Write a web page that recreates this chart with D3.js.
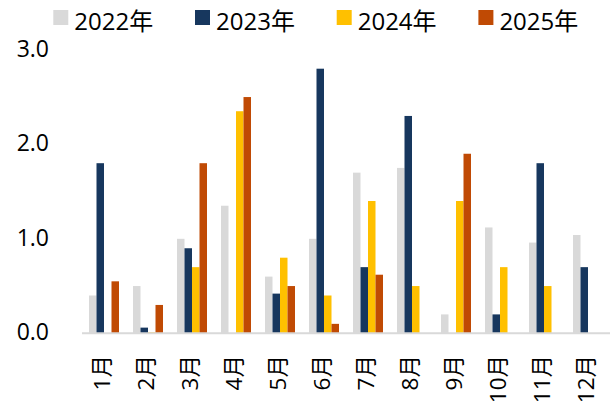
<!DOCTYPE html>
<html>
<head>
<meta charset="utf-8">
<script src="https://cdn.jsdelivr.net/npm/d3@7"></script>
<style>
  body { margin: 0; background: #fff; }
  svg { display: block; font-family: "Open Sans", "Noto Sans CJK SC", sans-serif; }
</style>
</head>
<body>
<svg></svg>
<script>
var months = ['1月', '2月', '3月', '4月', '5月', '6月', '7月', '8月', '9月', '10月', '11月', '12月']
var seriesNames = ['2022年', '2023年', '2024年', '2025年']
var colors = ['#D9D9D9', '#17375E', '#FFC000', '#C04A04']

// null = no bar for that month
var v2022 = [0.40, 0.50, 1.00, 1.35, 0.60, 1.00, 1.70, 1.75, 0.20, 1.12, 0.96, 1.04]
var v2023 = [1.80, 0.06, 0.90, null, 0.42, 2.80, 0.70, 2.30, null, 0.20, 1.80, 0.70]
var v2024 = [null, 0.01, 0.70, 2.35, 0.80, 0.40, 1.40, 0.50, 1.40, 0.70, 0.50, null]
var v2025 = [0.55, 0.30, 1.80, 2.50, 0.50, 0.10, 0.62, null, 1.90, null, null, null]
var yTicks = [0, 1, 2, 3]

var seriesValues = [v2022, v2023, v2024, v2025]

var width = 614
var height = 401
var svg = d3.select('svg').attr('width', width).attr('height', height)

var x0 = d3.scaleBand().domain(months).range([82, 610])
var x1 = d3.scaleBand().domain(seriesNames).range([7, 37])
var y = d3.scaleLinear().domain([0, 3]).range([333.3, 49.8])

/* bars */
var cells = []
seriesNames.forEach(function (s, i) {
  months.forEach(function (m, j) {
    if (seriesValues[i][j] !== null) cells.push({ series: s, month: m, value: seriesValues[i][j], color: colors[i] })
  })
})

svg.append('g')
  .selectAll('rect')
  .data(cells)
  .enter().append('rect')
    .attr('x', function (d) { return x0(d.month) + x1(d.series) })
    .attr('width', x1.bandwidth())
    .attr('y', function (d) { return y(d.value) })
    .attr('height', function (d) { return y(0) - y(d.value) })
    .attr('fill', function (d) { return d.color })

/* x axis line */
svg.append('line')
  .attr('x1', 82).attr('x2', 610)
  .attr('y1', y(0)).attr('y2', y(0))
  .attr('stroke', '#D9D9D9')
  .attr('stroke-width', 2)

/* y tick labels */
svg.append('g')
  .selectAll('text')
  .data(yTicks)
  .enter().append('text')
    .attr('x', 49)
    .attr('y', function (d) { return y(d) - 1.5 })
    .attr('dy', '0.36em')
    .attr('text-anchor', 'end')
    .attr('font-size', 23)
    .attr('fill', '#000')
    .text(function (d) { return d.toFixed(1) })

/* x labels, rotated */
svg.append('g')
  .selectAll('text')
  .data(months)
  .enter().append('text')
    .attr('transform', function (d) { return 'translate(' + (x0(d) + x0.bandwidth() / 2 - 2) + ',355) rotate(-90)' })
    .attr('dy', '0.36em')
    .attr('text-anchor', 'end')
    .attr('font-size', 22.5)
    .attr('fill', '#000')
    .text(function (d) { return d })

/* legend */
var legend = svg.append('g')
  .selectAll('g')
  .data(seriesNames)
  .enter().append('g')
    .attr('transform', function (d, i) { return 'translate(' + (53.3 + i * 141.7) + ',0)' })

legend.append('rect')
  .attr('x', 0).attr('y', 10)
  .attr('width', 15).attr('height', 15)
  .attr('fill', function (d, i) { return colors[i] })

legend.append('text')
  .attr('x', 21)
  .attr('y', 30)
  .attr('font-size', 24)
  .attr('fill', '#000')
  .text(function (d) { return d })
</script>
</body>
</html>
